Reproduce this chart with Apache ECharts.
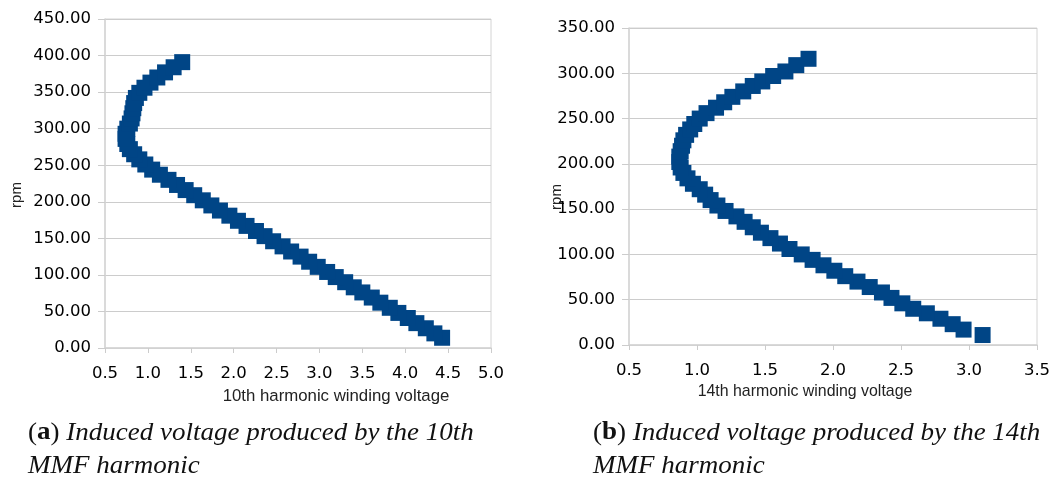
<!DOCTYPE html>
<html>
<head>
<meta charset="utf-8">
<script src="https://cdn.jsdelivr.net/npm/echarts@6/dist/echarts.min.js"></script>
<style>
html, body { margin: 0; padding: 0; background: #fff; }
#main { width: 1054px; height: 477px; }
</style>
</head>
<body>
<div id="main"></div>
<script>
// (a) 10th harmonic: rpm vs induced winding voltage
var rpm10 = [14, 20, 27, 34, 41, 48, 55, 62, 69, 76, 83, 90, 97, 104, 111, 118, 125, 132, 139, 146,
  153, 160, 167, 174, 181, 188, 195, 202, 209, 216, 223, 230, 237, 244, 251, 258, 265, 272, 279, 286,
  293, 300, 307, 314, 321, 328, 335, 342, 349, 356, 363, 370, 377, 384, 391];
var volt10 = [4.43, 4.34, 4.24, 4.13, 4.03, 3.92, 3.82, 3.71, 3.61, 3.50, 3.40, 3.30, 3.19, 3.09, 2.98, 2.88, 2.78, 2.67, 2.57, 2.46,
  2.36, 2.26, 2.15, 2.05, 1.95, 1.84, 1.74, 1.64, 1.54, 1.44, 1.34, 1.24, 1.14, 1.05, 0.97, 0.90, 0.84, 0.79, 0.76, 0.74,
  0.74, 0.76, 0.79, 0.81, 0.82, 0.83, 0.84, 0.86, 0.90, 0.96, 1.03, 1.11, 1.20, 1.30, 1.40];

// (b) 14th harmonic
var rpm14 = [11, 17, 23, 29, 35, 40, 46, 52, 58, 64, 70, 76, 82, 88, 94, 100, 106, 112, 118, 124,
  130, 136, 142, 148, 154, 160, 166, 172, 178, 184, 190, 196, 202, 208, 214, 220, 226, 232, 238, 244,
  250, 256, 262, 268, 274, 280, 286, 291, 297, 302, 309, 316];
var volt14 = [3.10, 2.96, 2.88, 2.79, 2.69, 2.59, 2.51, 2.43, 2.36, 2.27, 2.18, 2.09, 2.01, 1.93, 1.85, 1.77, 1.68, 1.61, 1.54, 1.47,
  1.41, 1.35, 1.29, 1.21, 1.15, 1.10, 1.06, 1.02, 0.97, 0.93, 0.90, 0.88, 0.87, 0.87, 0.88, 0.89, 0.90, 0.92, 0.95, 0.98,
  1.02, 1.07, 1.14, 1.20, 1.26, 1.34, 1.41, 1.48, 1.56, 1.65, 1.73, 1.82];

// axis ranges: [min, max, interval]
var xAxisA = [0.5, 5.0, 0.5];
var yAxisA = [0, 450, 50];
var xAxisB = [0.5, 3.5, 0.5];
var yAxisB = [0, 350, 50];

var xTitleA = '10th harmonic winding voltage';
var xTitleB = '14th harmonic winding voltage';
var yTitle = 'rpm';
var captionA = ['a', 'Induced voltage produced by the 10th', 'MMF harmonic'];
var captionB = ['b', 'Induced voltage produced by the 14th', 'MMF harmonic'];

function pairs(xs, ys) {
  var out = [];
  for (var i = 0; i < xs.length; i++) out.push([xs[i], ys[i]]);
  return out;
}

var gridCol = '#cccccc';
var labelFont = { color: '#000', fontFamily: 'DejaVu Sans', fontSize: 16.5 };

function valueAxis(r, idx, digits, isX) {
  return {
    type: 'value',
    gridIndex: idx,
    min: r[0], max: r[1], interval: r[2],
    axisLine: { show: true, lineStyle: { color: '#d4d4d4', width: 1.5 } },
    axisTick: { show: true, length: isX ? 5 : 7, lineStyle: { color: gridCol } },
    splitLine: { show: !isX, lineStyle: { color: gridCol, width: 1 } },
    axisLabel: Object.assign({
      margin: isX ? 17 : 14,
      formatter: function (v) { return v.toFixed(digits); }
    }, labelFont)
  };
}

function caption(x, c) {
  return [{
    type: 'text', x: x, y: 433, scaleX: 1.08,
    style: {
      text: '{p|(}{b|' + c[0] + '}{p|)} ' + c[1],
      font: 'italic 25px "Liberation Serif"',
      fill: '#111',
      textVerticalAlign: 'middle',
      rich: {
        p: { fontStyle: 'normal', fontFamily: 'Liberation Serif', fontSize: 25, fill: '#111' },
        b: { fontStyle: 'normal', fontWeight: 'bold', fontFamily: 'Liberation Serif', fontSize: 25, fill: '#111' }
      }
    }
  }, {
    type: 'text', x: x, y: 466, scaleX: 1.08,
    style: {
      text: c[2],
      font: 'italic 25px "Liberation Serif"',
      fill: '#111',
      textVerticalAlign: 'middle'
    }
  }];
}

var myChart = echarts.init(document.getElementById('main'));

var option = {
  backgroundColor: '#fff',
  animation: false,
  grid: [
    { left: 105, top: 19, width: 386, height: 329, show: true, borderColor: '#d4d4d4', borderWidth: 1, outerBoundsMode: 'none', containLabel: false },
    { left: 629, top: 28, width: 408, height: 317, show: true, borderColor: '#d4d4d4', borderWidth: 1, outerBoundsMode: 'none', containLabel: false }
  ],
  xAxis: [valueAxis(xAxisA, 0, 1, true), valueAxis(xAxisB, 1, 1, true)],
  yAxis: [valueAxis(yAxisA, 0, 2, false), valueAxis(yAxisB, 1, 2, false)],
  series: [
    {
      type: 'scatter', xAxisIndex: 0, yAxisIndex: 0,
      symbol: 'rect', symbolSize: 16,
      itemStyle: { color: '#004586', opacity: 1 },
      data: pairs(volt10, rpm10)
    },
    {
      type: 'scatter', xAxisIndex: 1, yAxisIndex: 1,
      symbol: 'rect', symbolSize: 16,
      itemStyle: { color: '#004586', opacity: 1 },
      data: pairs(volt14, rpm14)
    }
  ],
  graphic: [
    { type: 'text', x: 336, y: 396, style: { text: xTitleA, font: '16.8px "Liberation Sans"', fill: '#222', textAlign: 'center', textVerticalAlign: 'middle' } },
    { type: 'text', x: 805, y: 392, style: { text: xTitleB, font: '15.9px "Liberation Sans"', fill: '#222', textAlign: 'center', textVerticalAlign: 'middle' } },
    { type: 'text', x: 17, y: 195, rotation: Math.PI / 2, style: { text: yTitle, font: '15px "Liberation Sans"', fill: '#222', textAlign: 'center', textVerticalAlign: 'middle' } },
    { type: 'text', x: 557, y: 197, rotation: Math.PI / 2, style: { text: yTitle, font: '15px "Liberation Sans"', fill: '#222', textAlign: 'center', textVerticalAlign: 'middle' } }
  ].concat(caption(28, captionA), caption(593, captionB))
};

myChart.setOption(option);
</script>
</body>
</html>
